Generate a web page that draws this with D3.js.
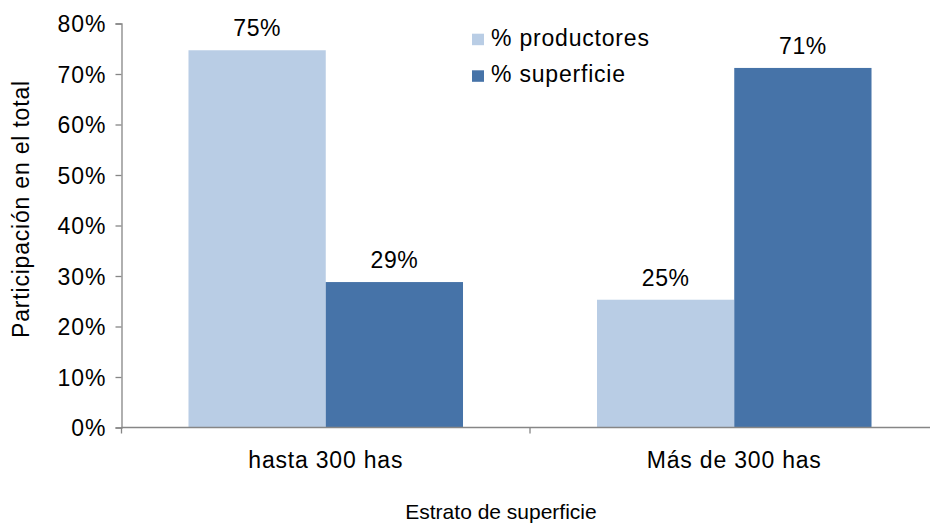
<!DOCTYPE html>
<html><head><meta charset="utf-8">
<script src="https://cdn.jsdelivr.net/npm/d3@7"></script>
<style>
html,body{margin:0;padding:0;background:#fff;}
svg text{font-family:"Liberation Sans",Arial,sans-serif;fill:#000;}
</style></head>
<body>
<svg id="chart" width="930" height="525"></svg>
<script>
const categories = ["hasta 300 has", "Más de 300 has"];
const seriesNames = ["% productores", "% superficie"];
const productores = [0.747, 0.253];
const superficie = [0.288, 0.712];
const yTicks = [0, 0.1, 0.2, 0.3, 0.4, 0.5, 0.6, 0.7, 0.8];
const yTitle = "Participación en el total";
const xTitle = "Estrato de superficie";
const colors = ["#B9CDE5", "#4673A8"];

(function () {
const rows = categories.map((c, i) => ({cat: c, vals: [productores[i], superficie[i]]}));

const svg = d3.select("#chart");
const pLeft = 121.5, pRight = 938.5, pTop = 23.5, pBottom = 427.5;
const axisColor = "#868686";
const fs = "23px";

const x0 = d3.scaleBand().domain(categories).range([pLeft, pRight]).paddingInner(0.328).paddingOuter(0.164);
const x1 = d3.scaleBand().domain(seriesNames).range([0, x0.bandwidth()]);
const y = d3.scaleLinear().domain([0, 0.8]).range([pBottom, pTop]);
const fmt = d3.format(".0%");

// bars
const g = svg.append("g");
rows.forEach(r => {
  r.vals.forEach((v, j) => {
    g.append("rect")
      .attr("x", x0(r.cat) + x1(seriesNames[j]))
      .attr("y", y(v))
      .attr("width", x1.bandwidth())
      .attr("height", y(0) - y(v))
      .attr("fill", colors[j]);
    g.append("text")
      .attr("x", x0(r.cat) + x1(seriesNames[j]) + x1.bandwidth() / 2)
      .attr("y", y(v) - 14)
      .attr("text-anchor", "middle")
      .style("font-size", fs)
      .style("letter-spacing", "0.5px")
      .text(fmt(v));
  });
});

// y axis
const yAxis = d3.axisLeft(y).tickValues(yTicks).tickFormat(fmt).tickSize(6).tickPadding(9);
const ya = svg.append("g").attr("transform", `translate(${pLeft},0)`).call(yAxis);
ya.select(".domain").attr("stroke", axisColor).attr("stroke-width", 1.3);
ya.selectAll(".tick line").attr("stroke", axisColor).attr("stroke-width", 1.3);
ya.selectAll(".tick text").style("font-size", fs).style("letter-spacing", "1px")
  .style("font-family", '"Liberation Sans",Arial,sans-serif').attr("fill", "#000").attr("dy", "0.36em");

// x axis
const xa = svg.append("g");
xa.append("line").attr("x1", pLeft).attr("x2", pRight).attr("y1", pBottom).attr("y2", pBottom)
  .attr("stroke", axisColor).attr("stroke-width", 1.3);
const boundaries = [pLeft, ...categories.map(c => x0(c) + x0.bandwidth() + x0.step() * 0.164)];
boundaries.forEach(b => {
  xa.append("line").attr("x1", b).attr("x2", b).attr("y1", pBottom).attr("y2", pBottom + 6)
    .attr("stroke", axisColor).attr("stroke-width", 1.3);
});
categories.forEach(c => {
  xa.append("text").attr("x", x0(c) + x0.bandwidth() / 2).attr("y", 467.5)
    .attr("text-anchor", "middle").style("font-size", fs).style("letter-spacing", "0.8px").text(c);
});

// titles
svg.append("text").attr("x", 501).attr("y", 519).attr("text-anchor", "middle")
  .style("font-size", "21px").text(xTitle);
svg.append("text").attr("transform", "translate(29,209) rotate(-90)").attr("text-anchor", "middle")
  .style("font-size", fs).style("letter-spacing", "0.8px").text(yTitle);

// legend
const lg = svg.append("g");
seriesNames.forEach((s, i) => {
  const base = 45.7 + i * 36.6;
  lg.append("rect").attr("x", 472).attr("y", base - 12).attr("width", 12).attr("height", 11.5).attr("fill", colors[i]);
  lg.append("text").attr("x", 491).attr("y", base).style("font-size", fs).style("letter-spacing", "0.8px").text(s);
});
})();
</script>
</body></html>
